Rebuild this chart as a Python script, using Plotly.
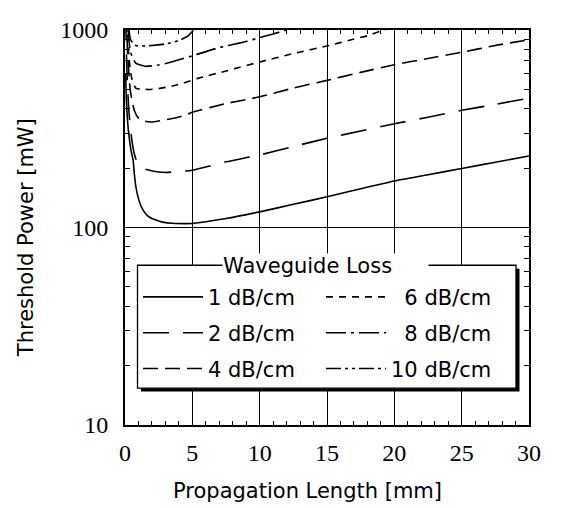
import plotly.graph_objects as go

# ---- data (Propagation length [mm] vs threshold power [mW]) ----
L_1dB = [0.05, 0.1, 0.2, 0.3, 0.45, 0.6, 0.7, 0.8, 1.0, 1.2, 1.5, 1.8, 2.3, 2.8, 3.5, 4.5, 5, 7.5, 10, 12.5, 15, 17.5, 20, 22.5, 25, 27.5, 30]
P_1dB = [600, 450, 340, 290, 245, 220, 185, 162, 140, 128, 118, 113, 109, 106.5, 105, 104.6, 104.8, 111, 120, 131, 143, 157, 172, 185, 199, 214, 230]

L_2dB = [0.05, 0.15, 0.3, 0.5, 0.7, 0.95, 1.3, 1.8, 2.5, 3.0, 4.0, 5, 7.5, 10, 12.5, 15, 17.5, 20, 22.5, 25, 27.5, 30]
P_2dB = [1200, 600, 380, 280, 235, 211, 200, 195, 191, 190, 192, 195, 215, 233, 257, 283, 308, 335, 362, 392, 420, 452]

L_4dB = [0.05, 0.2, 0.4, 0.7, 1.0, 1.5, 2.0, 2.6, 3.5, 4.5, 5, 7.5, 10, 12.5, 15, 17.5, 20, 22.5, 25, 27.5, 30]
P_4dB = [1500, 750, 490, 390, 358, 345, 342, 347, 356, 371, 383, 424, 459, 508, 556, 610, 667, 718, 771, 835, 893]

L_6dB = [0.08, 0.3, 0.5, 0.8, 1.2, 1.8, 2.5, 3.5, 4.3, 5.4, 7.5, 10, 12.5, 15, 17, 18, 19.2, 19.6]
P_6dB = [1500, 720, 570, 508, 502, 500, 505, 520, 537, 569, 620, 689, 760, 830, 900, 935, 1000, 1015]

L_8dB = [0.1, 0.4, 0.8, 1.5, 2.5, 3.5, 5, 7, 9, 10, 11, 12, 12.4]
P_8dB = [1500, 780, 680, 655, 665, 690, 740, 815, 875, 915, 955, 1000, 1015]

L_10dB = [0.12, 0.4, 0.7, 1.0, 2.0, 3.0, 4.0, 4.7, 5.1, 5.4]
P_10dB = [1500, 900, 840, 830, 835, 850, 885, 935, 1000, 1030]

x_ticks = [0, 5, 10, 15, 20, 25, 30]
y_ticks = [10, 100, 1000]
y_minor = [20, 30, 40, 50, 60, 70, 80, 90, 200, 300, 400, 500, 600, 700, 800, 900]

FS = "\u2007"  # figure space to right-align single-digit labels
series = [
    ("1 dB/cm", L_1dB, P_1dB, "solid", "legend"),
    ("2 dB/cm", L_2dB, P_2dB, "26px,14px", "legend2"),
    ("4 dB/cm", L_4dB, P_4dB, "15px,7px", "legend3"),
    (FS + "6 dB/cm", L_6dB, P_6dB, "7px,6px", "legend"),
    (FS + "8 dB/cm", L_8dB, P_8dB, "20px,5px,3px,5px", "legend2"),
    ("10 dB/cm", L_10dB, P_10dB, "15px,4px,3px,4px,3px,4px", "legend3"),
]

# page body has an 8px margin: build the figure 8px smaller and shift everything
OFF = 8
W, H = 563 - OFF, 508 - OFF
ML, MT = 125 - OFF, 17 - OFF
MR = W - (529 - OFF)
MB = H - (425 - OFF)
PW, PH = W - ML - MR, H - MT - MB


def px(xp):  # reference pixel x -> paper
    return (xp - OFF - ML) / PW


def py(yp):  # reference pixel y -> paper
    return (H - MB - (yp - OFF)) / PH


fig = go.Figure()
for name, xs, ys, dash, lg in series:
    fig.add_trace(go.Scatter(x=xs, y=ys, mode="lines", name=name, legend=lg,
                             line=dict(color="black", width=1.6, dash=dash, shape="spline", smoothing=0.6)))

SANS = "DejaVu Sans"
SERIF = "Liberation Serif"

legend_common = dict(orientation="h", bgcolor="rgba(0,0,0,0)", borderwidth=0,
                     font=dict(family=SANS, size=21, color="black"),
                     xanchor="left", yanchor="middle", entrywidth=108, itemwidth=60)

fig.update_layout(
    width=W, height=H,
    margin=dict(l=ML, r=MR, t=MT, b=MB),
    paper_bgcolor="white", plot_bgcolor="white",
    showlegend=True,
    legend=dict(**legend_common, x=px(138), y=py(293)),
    legend2=dict(**legend_common, x=px(138), y=py(330)),
    legend3=dict(**legend_common, x=px(138), y=py(367)),
    xaxis=dict(range=[0, 30], tickvals=x_ticks, ticktext=[str(v) for v in x_ticks],
               showline=True, linecolor="black", linewidth=2, mirror="allticks",
               ticks="inside", ticklen=6, tickcolor="black", tickwidth=1.2,
               showgrid=True, gridcolor="black", gridwidth=1.2, zeroline=False,
               minor=dict(dtick=1, ticks="inside", ticklen=4, tickcolor="black", tickwidth=1.2, showgrid=False),
               tickfont=dict(family=SERIF, size=24, color="black"), ticklabelstandoff=5,
               ticklabeloverflow="allow"),
    yaxis=dict(type="log", range=[1, 3], tickvals=y_ticks, ticktext=[str(v) for v in y_ticks],
               showline=True, linecolor="black", linewidth=2, mirror="allticks",
               ticks="inside", ticklen=6, tickcolor="black", tickwidth=1.2,
               showgrid=True, gridcolor="black", gridwidth=1.2, zeroline=False,
               minor=dict(tickvals=y_minor, ticks="inside", ticklen=5, tickcolor="black", tickwidth=1.2, showgrid=False),
               tickfont=dict(family=SERIF, size=24, color="black"), ticklabelstandoff=10,
               ticklabeloverflow="allow"),
    shapes=[
        dict(type="rect", xref="paper", yref="paper", x0=px(141), x1=px(519.5), y0=py(390.5), y1=py(263.5),
             fillcolor="black", line=dict(width=0), layer="above"),
        dict(type="rect", xref="paper", yref="paper", x0=px(137.5), x1=px(516), y0=py(387), y1=py(260),
             fillcolor="white", line=dict(color="black", width=1.3), layer="above"),
    ],
    annotations=[
        dict(text="Waveguide Loss", xref="paper", yref="paper", x=px(325), y=py(261),
             xanchor="center", yanchor="middle", showarrow=False, width=205, align="left",
             bgcolor="white", borderpad=0, font=dict(family=SANS, size=21, color="black")),
        dict(text="Propagation Length [mm]", xref="paper", yref="paper", x=px(307), y=py(493),
             xanchor="center", yanchor="middle", showarrow=False,
             font=dict(family=SANS, size=21, color="black")),
        dict(text="Threshold Power [mW]", xref="paper", yref="paper", x=px(26), y=py(232),
             xanchor="center", yanchor="middle", showarrow=False, textangle=-90,
             font=dict(family=SANS, size=21, color="black")),
    ],
)

fig.write_html("out.html")
